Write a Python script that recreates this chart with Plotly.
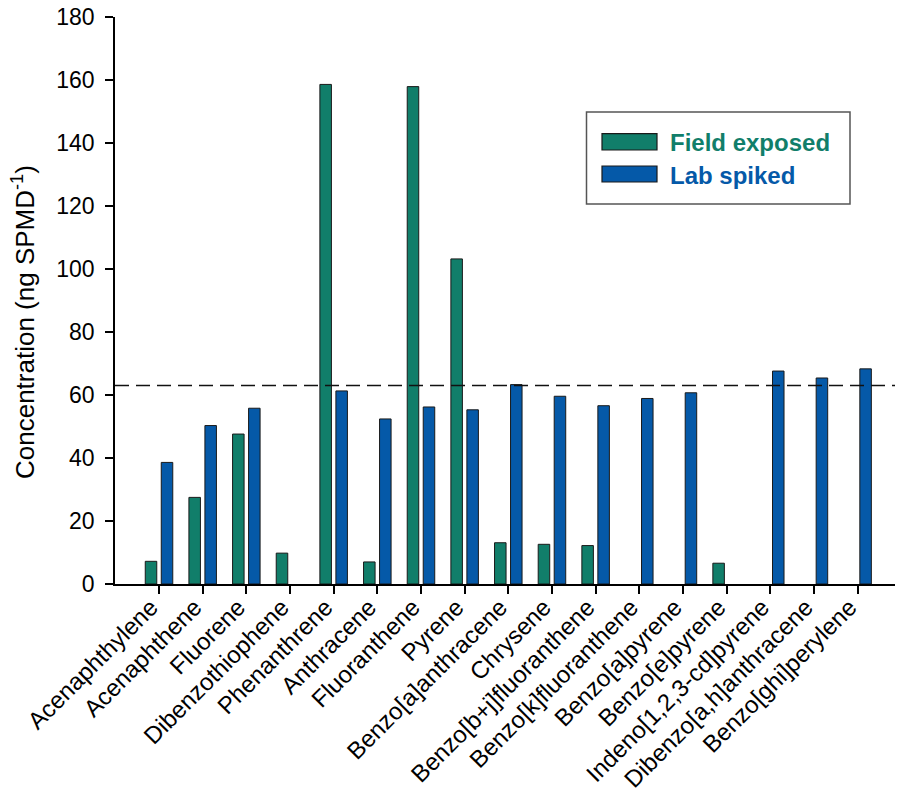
import plotly.graph_objects as go

compounds = ["Acenaphthylene", "Acenaphthene", "Fluorene", "Dibenzothiophene",
             "Phenanthrene", "Anthracene", "Fluoranthene", "Pyrene",
             "Benzo[a]anthracene", "Chrysene", "Benzo[b+j]fluoranthene",
             "Benzo[k]fluoranthene", "Benzo[a]pyrene", "Benzo[e]pyrene",
             "Indeno[1,2,3-cd]pyrene", "Dibenzo[a,h]anthracene", "Benzo[ghi]perylene"]
# None = not detected (no bar drawn)
field_exposed = [7.2, 27.5, 47.6, 9.8, 158.6, 7.0, 157.9, 103.2, 13.1, 12.6, 12.2,
                 None, None, 6.6, None, None, None]
lab_spiked = [38.6, 50.3, 55.8, None, 61.3, 52.4, 56.2, 55.3, 63.3, 59.6, 56.6,
              58.9, 60.7, None, 67.6, 65.4, 68.3]
reference_level = 63.0
y_ticks = [0, 20, 40, 60, 80, 100, 120, 140, 160, 180]

GREEN = "#117E6A"
BLUE = "#0559A8"
FONT = "Arial, Liberation Sans, sans-serif"

OFF = 8  # page body margin
W, H = 903 - OFF, 795 - OFF
ML, MR, MT, MB = 115 - OFF, 0, 17 - OFF, 211
PW, PH = W - ML - MR, H - MT - MB

def px(x):  # page pixel -> paper
    return (x - OFF - ML) / PW

def py(y):
    return (H - MB - (y - OFF)) / PH

x_idx = list(range(len(compounds)))

fig = go.Figure()
fig.add_trace(go.Bar(x=x_idx, y=field_exposed, name="Field exposed",
                     marker=dict(color=GREEN, line=dict(color="#1a1a1a", width=1))))
fig.add_trace(go.Bar(x=x_idx, y=lab_spiked, name="Lab spiked",
                     marker=dict(color=BLUE, line=dict(color="#1a1a1a", width=1))))

fig.add_shape(type="line", xref="paper", yref="y", x0=0, x1=1,
              y0=reference_level, y1=reference_level,
              line=dict(color="#111111", width=1.4, dash="14px,7px"), layer="above")

# legend box (drawn)
fig.add_shape(type="rect", xref="paper", yref="paper",
              x0=px(586.5), x1=px(850), y0=py(112), y1=py(204),
              line=dict(color="#555555", width=1.5), fillcolor="white", layer="above")
for (y0, y1, col, label) in [(133.7, 150, GREEN, "Field exposed"), (166, 182, BLUE, "Lab spiked")]:
    fig.add_shape(type="rect", xref="paper", yref="paper",
                  x0=px(602), x1=px(657), y0=py(y0), y1=py(y1),
                  line=dict(color="#1a1a1a", width=1.2), fillcolor=col, layer="above")
    fig.add_annotation(xref="paper", yref="paper", x=px(668), y=py((y0 + y1) / 2 + 1),
                       xanchor="left", yanchor="middle", showarrow=False,
                       text="<b>%s</b>" % label,
                       font=dict(family=FONT, size=24, color=col))

fig.add_annotation(xref="paper", yref="paper", x=px(23), y=py(322),
                   xanchor="center", yanchor="middle", showarrow=False, textangle=-90,
                   text="Concentration (ng SPMD<sup>-1</sup>)",
                   font=dict(family=FONT, size=26, color="black"))

fig.update_layout(
    width=W, height=H,
    margin=dict(l=ML, r=MR, t=MT, b=MB, pad=0, autoexpand=False),
    paper_bgcolor="white", plot_bgcolor="white",
    barmode="group", bargap=0.267, bargroupgap=0.28,
    showlegend=False,
    font=dict(family=FONT, size=23, color="black"),
)
fig.update_xaxes(range=[-1.008, 17.04], tickmode="array", tickvals=x_idx, ticktext=compounds,
                 tickangle=-45, ticks="outside", ticklen=8, tickwidth=1.5, tickcolor="black",
                 showline=True, linecolor="black", linewidth=1.5, showgrid=False, zeroline=False,
                 automargin=False, ticklabelshift=-8, ticklabelstandoff=-10,
                 ticklabeloverflow="allow",
                 tickfont=dict(family=FONT, size=24, color="black"))
fig.update_yaxes(range=[0, 180], tickmode="array", tickvals=y_ticks,
                 ticks="outside", ticklen=8, tickwidth=1.5, tickcolor="black",
                 showline=True, linecolor="black", linewidth=1.5, showgrid=False, zeroline=False,
                 automargin=False, ticklabeloverflow="allow",
                 tickfont=dict(family=FONT, size=23, color="black"), ticklabelstandoff=6)

fig.write_html("out.html")
